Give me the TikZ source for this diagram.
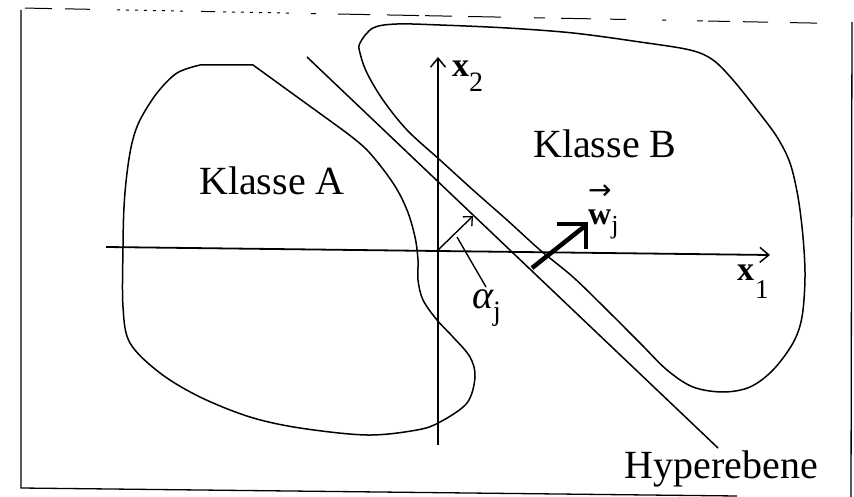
\documentclass[tikz,border=0pt]{standalone}
\usepackage{fontspec}
\setmainfont{Liberation Serif}
\newfontfamily\arrowfont{DejaVu Sans}
\usetikzlibrary{arrows.meta}
\begin{document}
\begin{tikzpicture}[x=1pt,y=-1pt,
  outline/.style={line width=1.5pt, line join=round},
  axisline/.style={line width=1.8pt, -{Straight Barb[length=9pt,width=15pt,line width=1.5pt]}},
  framel/.style={line width=1.3pt},
  topdash/.style={line width=1pt},
  lbl/.style={inner sep=0pt, anchor=base west},
  bigtext/.style={inner sep=0pt, font=\fontsize{40}{40}\selectfont},
]
\useasboundingbox (0,0) rectangle (854,497);
\fill[white] (0,0) rectangle (854,497);

% frame (scanned, slightly tilted)
\draw[framel] (21,10) -- (21,488) -- (737,496);
\draw[framel] (852,22) -- (851,497);
\foreach \a/\b in {25/52,65/90,201/215,311/316,338/370,387/419,425/452,468/501,534/545,561/591,610/626,662/666,697/703,708/730,743/768,790/817}{
  \draw[topdash] (\a,{8+(\a-21)*0.019}) -- (\b,{8+(\b-21)*0.019});
}
\foreach \a/\b in {117/188,223/289}{
  \draw[topdash, dash pattern=on 3pt off 6pt] (\a,{8+(\a-21)*0.019}) -- (\b,{8+(\b-21)*0.019});
}

% coordinates
\coordinate (O) at (438,250);
\coordinate (x1s) at (106,247);
\coordinate (x1e) at (770,255);
\coordinate (x2s) at (438,445);
\coordinate (x2e) at (438,57);
\coordinate (hs) at (307,57);
\coordinate (he) at (718,448);
\coordinate (afoot) at (473,216);
\coordinate (lead1) at (457,237);
\coordinate (lead2) at (486,287);
\coordinate (ws) at (532,268);
\coordinate (wt) at (585,226);
\coordinate (wbh) at (557,224);
\coordinate (wc) at (586,224);
\coordinate (wbv) at (586,249);

% Klasse A region
\draw[outline] (200,65) -- (253,65) -- (340,128) -- plot[smooth, tension=0.55] coordinates {(340,128) (367,150) (393,183) (407,210) (415,237) (418,260) (418,280) (423,300) (437,320) (453,337) (470,357) (475,377) (467,403) (440,422) (417,430) (367,435) (300,428) (250,417) (200,397) (160,373) (130,343) (123,307) (123,247) (124,207) (127,173) (132,143) (140,120) (157,93) (177,73) (200,65)};

% Klasse B region
\draw[outline] plot[smooth cycle, tension=0.55] coordinates {(360,43) (373,28) (397,24) (440,25) (507,28) (573,33) (640,42) (690,50) (713,60) (733,80) (757,110) (777,137) (790,163) (798,197) (803,237) (805,277) (802,317) (793,343) (773,370) (750,387) (723,392) (693,387) (667,370) (640,343) (607,310) (573,277) (540,250) (507,220) (473,190) (440,160) (407,130) (383,100) (367,73) (360,53)};

% axes
\draw[axisline] (x1s) -- (x1e);
\draw[axisline] (x2s) -- (x2e);

% hyperplane
\draw[outline] (hs) -- (he);

% alpha arrow and leader
\draw[line width=1.4pt, -{Straight Barb[length=7pt,width=13pt,line width=1.3pt]}] (O) -- (afoot);
\draw[line width=1.4pt] (lead1) -- (lead2);

% weight vector
\draw[line width=4.5pt] (ws) -- (wt);
\draw[line width=4.5pt, line join=miter] (wbh) -- (wc) -- (wbv);

% labels
\node[bigtext, anchor=base west] (ka) at (199,195) {Klasse A};
\node[bigtext, anchor=base west] (kb) at (533,158) {Klasse B};
\node[bigtext, anchor=base east] (hyp) at (818,478) {Hyperebene};
\node[lbl] (lx2) at (452,77) {\fontsize{34}{34}\selectfont\bfseries x\raisebox{-15pt}{\fontsize{28}{28}\selectfont\mdseries 2}};
\node[lbl] (lx1) at (737,280) {\fontsize{34}{34}\selectfont\bfseries x\raisebox{-18pt}{\fontsize{27}{27}\selectfont\mdseries\hspace{1pt}1}};
\node[lbl] (lw) at (588,225) {\fontsize{32}{32}\selectfont\bfseries\rlap{\raisebox{25pt}{\arrowfont\fontsize{28}{28}\selectfont\mdseries →}}w\raisebox{-9pt}{\fontsize{26}{26}\selectfont\mdseries j}};
\node[lbl] (la) at (472,308) {{\fontsize{40}{40}\selectfont\itshape α}\raisebox{-12pt}{\fontsize{28}{28}\selectfont j}};
\end{tikzpicture}
\end{document}
